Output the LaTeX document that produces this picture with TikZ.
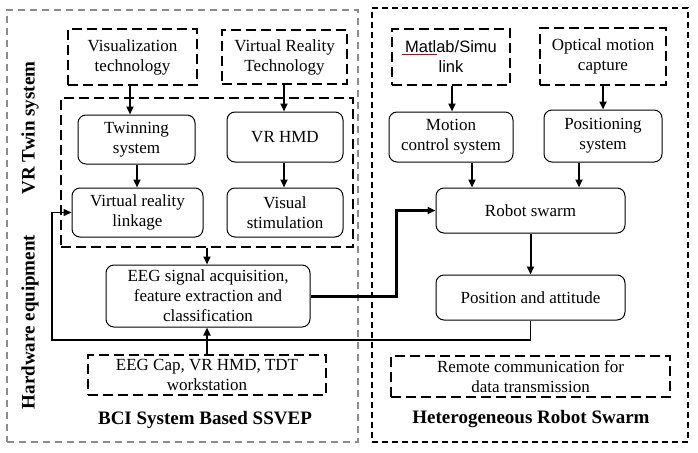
\documentclass[tikz,border=0pt]{standalone}
\usepackage{fontspec}
\setmainfont{Liberation Serif}
\newfontfamily\sansf{Liberation Sans}
\usetikzlibrary{arrows.meta}
\begin{document}
\begin{tikzpicture}[x=1pt,y=-1pt,
 txt/.style={font=\fontsize{17}{20}\selectfont, align=center, inner sep=0pt},
 rbox/.style={txt, draw, line width=1pt, rounded corners=8pt},
 dbox/.style={txt, draw, line width=2pt, dash pattern=on 10pt off 5pt},
 graybox/.style={draw=gray!90, line width=1.3pt, dash pattern=on 7pt off 5pt, inner sep=0pt},
 rightbox/.style={draw, line width=1.5pt, dash pattern=on 6pt off 4pt, inner sep=0pt},
 lbl/.style={font=\fontsize{19}{22}\selectfont\bfseries, inner sep=0pt},
 arr/.style={line width=2pt, -{Triangle[length=8pt,width=7pt]}},
 bigarr/.style={line width=3pt, -{Triangle[length=8pt,width=7pt]}},
 thinarr/.style={line width=1.4pt, -{Triangle[length=8pt,width=7pt]}},
 sz/.style 2 args={minimum width=#1, minimum height=#2}
]
\useasboundingbox (0,0) rectangle (698,452);
% outer boxes
\node[graybox, sz={351}{432}] (left) at (182.5,226) {};
\node[rightbox, sz={316}{434}] (right) at (530,225) {};
\node[dbox, sz={292}{149}] (inner) at (207,172.5) {};
% labels
\node[lbl, rotate=90] (lvr) at (30,128) {VR Twin system};
\node[lbl, rotate=90] (lhw) at (30,322) {Hardware equipment};
\node[lbl] (lbci) at (205,420) {BCI System Based SSVEP};
\node[lbl] (lhrs) at (531,419) {Heterogeneous Robot Swarm};
% left nodes
\node[dbox, sz={129}{56}] (vis) at (132.5,57) {Visualization\\technology};
\node[dbox, sz={125}{54}] (vrt) at (284.5,57) {Virtual Reality\\Technology};
\node[rbox, sz={117}{49}] (twin) at (136.5,139.5) {Twinning\\system};
\node[rbox, sz={116}{50}] (vrhmd) at (285,137) {VR HMD};
\node[rbox, sz={131}{49}] (vrl) at (137.5,212.5) {Virtual reality\\linkage};
\node[rbox, sz={116}{49}] (vstim) at (285,212.5) {Visual\\stimulation};
\node[rbox, sz={204}{62}] (eeg) at (208,296) {EEG signal acquisition,\\feature extraction and\\classification};
\node[dbox, sz={238}{40}] (cap) at (207,375) {EEG Cap, VR HMD, TDT\\workstation};
% right nodes
\node[dbox, sz={118}{56}, font=\sansf\fontsize{16.5}{20}\selectfont] (matlab) at (451,57) {Matlab/Simu\\link};
\node[dbox, sz={126}{57}] (optical) at (603,56.5) {Optical motion\\capture};
\node[rbox, sz={124}{50}] (motion) at (451,137) {Motion\\control system};
\node[rbox, sz={118}{52}] (posit) at (603,136) {Positioning\\system};
\node[rbox, sz={189}{45}] (robot) at (530.5,210.5) {Robot swarm};
\node[rbox, sz={189}{45}] (posatt) at (530.5,297.5) {Position and attitude};
\node[dbox, sz={279}{41}] (remote) at (530.5,376.5) {Remote communication for\\data transmission};
% spell-check underline
\draw[red!80!black, line width=0.6pt] (402,54.8) -- (437,54.8);
% x positions
\coordinate (xa) at (130,0);
\coordinate (xb) at (284,0);
\coordinate (xc) at (137,0);
\coordinate (xe) at (207,0);
\coordinate (xm) at (452,0);
\coordinate (xo) at (603,0);
\coordinate (xr1) at (472,0);
\coordinate (xr2) at (579,0);
\coordinate (xr) at (530.5,0);
\coordinate (c1) at (52,340);
\coordinate (c2) at (396,0);
% arrows
\draw[arr] (vis.south -| xa) -- (twin.north -| xa);
\draw[arr] (vrt.south -| xb) -- (vrhmd.north -| xb);
\draw[arr] (twin.south -| xc) -- (vrl.north -| xc);
\draw[arr] (vrhmd.south -| xb) -- (vstim.north -| xb);
\draw[arr] (inner.south -| xe) -- (eeg.north -| xe);
\draw[arr] (cap.north -| xe) -- (eeg.south -| xe);
\draw[arr] (matlab.south -| xm) -- (motion.north -| xm);
\draw[arr] (optical.south -| xo) -- (posit.north -| xo);
\draw[arr] (motion.south -| xr1) -- (robot.north -| xr1);
\draw[arr] (posit.south -| xr2) -- (robot.north -| xr2);
\draw[arr] (robot.south -| xr) -- (posatt.north -| xr);
\draw[bigarr] (eeg.east) -- (eeg.east -| c2) |- (robot.west);
\draw[thinarr] (posatt.south) |- (c1) |- (vrl.west);
\end{tikzpicture}
\end{document}
